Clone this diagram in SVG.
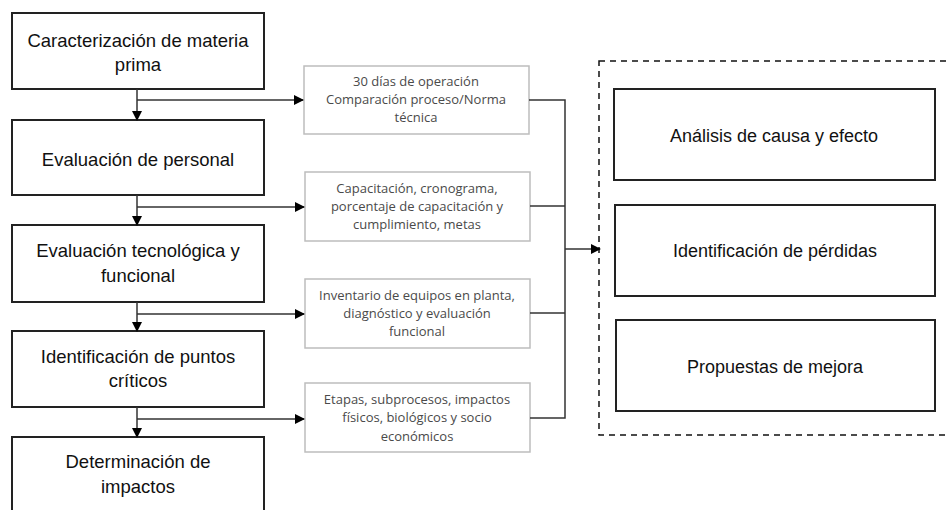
<svg xmlns="http://www.w3.org/2000/svg" width="946" height="510" viewBox="0 0 946 510">
<defs>
<marker id="ah" markerWidth="10" markerHeight="10" refX="9" refY="5" orient="auto" markerUnits="userSpaceOnUse">
<path d="M0,0 L10,5 L0,10 Z" fill="#000"/>
</marker>
<style>
.main{fill:#fff;stroke:#222;stroke-width:2}
.sub{fill:#fff;stroke:#bdbdbd;stroke-width:1.5}
.t1{font-family:"Liberation Sans",Arial,sans-serif;font-size:18.5px;fill:#111;text-anchor:middle}
.t2{font-family:"Open Sans","Liberation Sans",sans-serif;font-size:13px;fill:#4a4a4a;text-anchor:middle}
.t3{font-family:"Liberation Sans",Arial,sans-serif;font-size:18px;fill:#111;text-anchor:middle}
.ln{fill:none;stroke:#333;stroke-width:1.5}
</style>
</defs>
<rect width="946" height="510" fill="#fff"/>
<g id="container">
<rect x="599" y="61" width="360" height="374" fill="none" stroke="#111" stroke-width="1.5" stroke-dasharray="6,5"/>
</g>
<g id="n1"><rect class="main" x="12" y="13" width="252" height="76"/>
<text class="t1" x="138" y="47">Caracterización de materia</text><text class="t1" x="138" y="71">prima</text></g>
<g id="n2"><rect class="main" x="12" y="120" width="252" height="75"/>
<text class="t1" x="138" y="166">Evaluación de personal</text></g>
<g id="n3"><rect class="main" x="12" y="225" width="252" height="77"/>
<text class="t1" x="138" y="257">Evaluación tecnológica y</text><text class="t1" x="138" y="282">funcional</text></g>
<g id="n4"><rect class="main" x="12" y="331" width="252" height="76"/>
<text class="t1" x="138" y="363">Identificación de puntos</text><text class="t1" x="138" y="387">críticos</text></g>
<g id="n5"><rect class="main" x="12" y="437" width="252" height="80"/>
<text class="t1" x="138" y="468">Determinación de</text><text class="t1" x="138" y="493">impactos</text></g>
<g id="s1"><rect class="sub" x="304" y="66" width="225" height="68"/>
<text class="t2" x="416" y="86">30 días de operación</text><text class="t2" x="416" y="104">Comparación proceso/Norma</text><text class="t2" x="416" y="122">técnica</text></g>
<g id="s2"><rect class="sub" x="305" y="172" width="225" height="69"/>
<text class="t2" x="417" y="193">Capacitación, cronograma,</text><text class="t2" x="417" y="211">porcentaje de capacitación y</text><text class="t2" x="417" y="229">cumplimiento, metas</text></g>
<g id="s3"><rect class="sub" x="305" y="279" width="225" height="69"/>
<text class="t2" x="417" y="300">Inventario de equipos en planta,</text><text class="t2" x="417" y="318">diagnóstico y evaluación</text><text class="t2" x="417" y="336">funcional</text></g>
<g id="s4"><rect class="sub" x="305" y="383" width="225" height="69"/>
<text class="t2" x="417" y="404">Etapas, subprocesos, impactos</text><text class="t2" x="417" y="422">físicos, biológicos y socio</text><text class="t2" x="417" y="441">económicos</text></g>
<g id="r1"><rect class="main" x="614" y="89" width="321" height="91"/>
<text class="t3" x="774" y="142">Análisis de causa y efecto</text></g>
<g id="r2"><rect class="main" x="615" y="205" width="320" height="91"/>
<text class="t3" x="775" y="257">Identificación de pérdidas</text></g>
<g id="r3"><rect class="main" x="616" y="320" width="319" height="91"/>
<text class="t3" x="775" y="373">Propuestas de mejora</text></g>
<g id="connectors">
<line class="ln" x1="137" y1="89" x2="137" y2="120" marker-end="url(#ah)"/>
<line class="ln" x1="137" y1="100" x2="303" y2="100" marker-end="url(#ah)"/>
<line class="ln" x1="137" y1="195" x2="137" y2="225" marker-end="url(#ah)"/>
<line class="ln" x1="137" y1="207" x2="304" y2="207" marker-end="url(#ah)"/>
<line class="ln" x1="137" y1="302" x2="137" y2="331" marker-end="url(#ah)"/>
<line class="ln" x1="137" y1="314" x2="304" y2="314" marker-end="url(#ah)"/>
<line class="ln" x1="137" y1="407" x2="137" y2="437" marker-end="url(#ah)"/>
<line class="ln" x1="137" y1="419" x2="304" y2="419" marker-end="url(#ah)"/>
<polyline class="ln" points="529,100 565,100 565,418 530,418"/>
<line class="ln" x1="530" y1="206" x2="565" y2="206"/>
<line class="ln" x1="530" y1="313" x2="565" y2="313"/>
<line class="ln" x1="565" y1="249" x2="600" y2="249" marker-end="url(#ah)"/>
</g>
</svg>
